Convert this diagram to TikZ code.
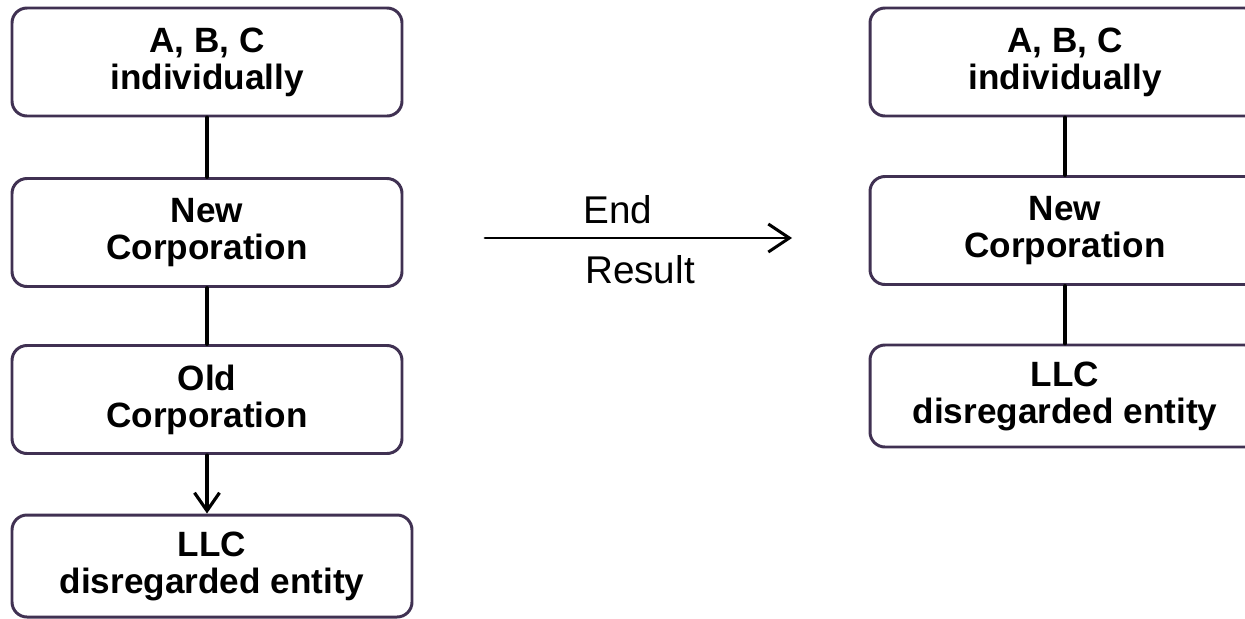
\documentclass[tikz,border=0pt]{standalone}
\usepackage{fontspec}
\setmainfont{Liberation Sans}
\usepackage{tikz}
\usetikzlibrary{arrows.meta}
\definecolor{boxline}{HTML}{403152}

\begin{document}
\begin{tikzpicture}
      [line cap=round,line join=round,
       entity/.style={draw=boxline,line width=1.7pt,rounded corners=0.3cm,
         minimum width=7.8cm,minimum height=2.16cm,align=center,
         font=\bfseries\fontsize{20}{21}\selectfont},
       link/.style={draw=black,line width=2.2pt},
       lbl/.style={font=\fontsize{22}{24}\selectfont,inner sep=0pt}]

\clip (0,0) rectangle (24.9,-12.38);

%left column: before
  \node[entity] (abcL) at (4.14,-1.24) {A, B, C\\individually};
  \node[entity] (newL) at (4.14,-4.65) {New\\Corporation};
  \node[entity] (oldL) at (4.14,-7.99) {Old\\Corporation};
  \node[entity,minimum width=8cm,minimum height=2.04cm] (llcL) at (4.24,-11.32) {LLC\\disregarded entity};

  \draw[link] (abcL) -- (newL);
  \draw[link] (newL) -- (oldL);
  \draw[link,line width=1.8pt,-{Straight Barb[length=0.36cm,width=0.5cm]}] (oldL.south) -- (oldL.south |- llcL.north);

%middle arrow
  \coordinate (go) at (9.7,-4.76);
  \coordinate (stop) at (15.84,-4.76);
  \draw[link,line width=1.7pt,-{Straight Barb[length=0.42cm,width=0.56cm]}] (go) -- (stop);
  \node[lbl,anchor=base] (endlbl) at (12.36,-4.46) {End};
  \node[lbl,anchor=base] (reslbl) at (12.8,-5.66) {Result};

%right column: end result
  \node[entity] (abcR) at (21.3,-1.24) {A, B, C\\individually};
  \node[entity] (newR) at (21.3,-4.61) {New\\Corporation};
  \node[entity,minimum height=2.04cm] (llcR) at (21.3,-7.92) {LLC\\disregarded entity};

  \draw[link] (abcR) -- (newR);
  \draw[link] (newR) -- (llcR);

\end{tikzpicture}
\end{document}
